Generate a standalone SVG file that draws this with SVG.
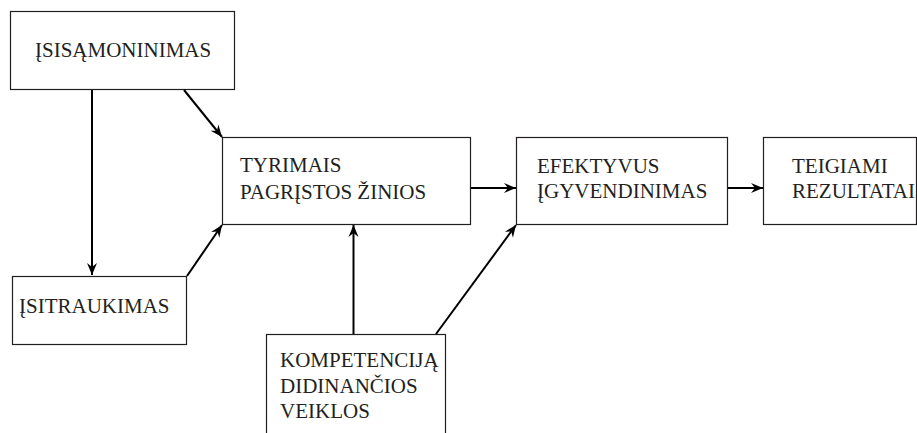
<svg xmlns="http://www.w3.org/2000/svg" width="917" height="433" viewBox="0 0 917 433">
<style>
.box{fill:#fff;stroke:#231f20;stroke-width:1.2}
.lbl{font-family:"Liberation Serif","Times New Roman",serif;font-size:21px;fill:#231f20}
.con{fill:none;stroke:#000;stroke-width:2}
</style>
<defs>
<marker id="ah" markerUnits="userSpaceOnUse" markerWidth="14" markerHeight="12" viewBox="0 0 14 12" refX="13" refY="6" orient="auto">
<path d="M13,6 L1,1 L5,6 L1,11 Z" fill="#000"/>
</marker>
</defs>
<g id="n1"><rect class="box" x="10.5" y="11.5" width="224" height="78"/><text class="lbl" x="35" y="57">ĮSISĄMONINIMAS</text></g>
<g id="n2"><rect class="box" x="12.5" y="276.5" width="174" height="68"/><text class="lbl" x="19" y="313">ĮSITRAUKIMAS</text></g>
<g id="n3"><rect class="box" x="222.5" y="137.5" width="248" height="87"/><text class="lbl" x="240" y="172">TYRIMAIS</text><text class="lbl" x="240" y="199">PAGRĮSTOS ŽINIOS</text></g>
<g id="n4"><rect class="box" x="516.5" y="137.5" width="211" height="87"/><text class="lbl" x="537" y="173">EFEKTYVUS</text><text class="lbl" x="537" y="198">ĮGYVENDINIMAS</text></g>
<g id="n5"><rect class="box" x="763.5" y="137.5" width="153" height="87"/><text class="lbl" x="792" y="173">TEIGIAMI</text><text class="lbl" x="792" y="198">REZULTATAI</text></g>
<g id="n6"><rect class="box" x="266.5" y="334.5" width="179" height="110"/><text class="lbl" x="280" y="367">KOMPETENCIJĄ</text><text class="lbl" x="280" y="393">DIDINANČIOS</text><text class="lbl" x="280" y="418">VEIKLOS</text></g>
<g id="connectors">
<line class="con" x1="92" y1="90" x2="92" y2="275" marker-end="url(#ah)"/>
<line class="con" x1="184" y1="90" x2="222" y2="137" marker-end="url(#ah)"/>
<line class="con" x1="187" y1="276" x2="222" y2="225" marker-end="url(#ah)"/>
<line class="con" x1="471" y1="188" x2="516" y2="188" marker-end="url(#ah)"/>
<line class="con" x1="728" y1="188" x2="763" y2="188" marker-end="url(#ah)"/>
<line class="con" x1="353.5" y1="334" x2="353.5" y2="225" marker-end="url(#ah)"/>
<line class="con" x1="436" y1="334" x2="516" y2="225" marker-end="url(#ah)"/>
</g>
</svg>
